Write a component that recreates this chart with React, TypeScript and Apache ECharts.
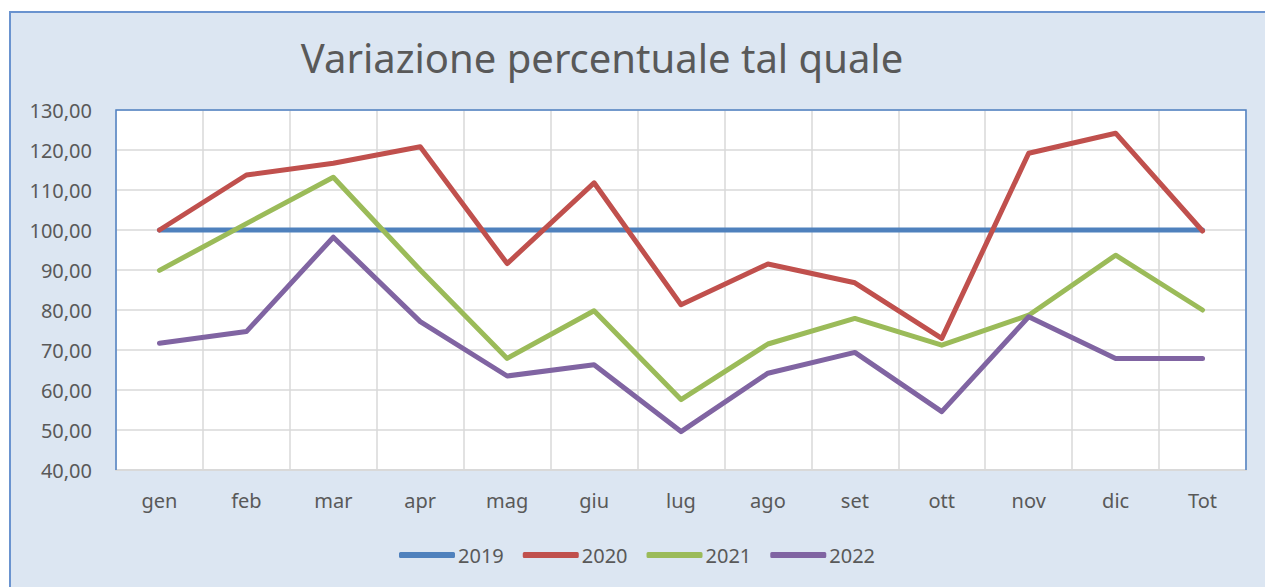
import React, { useEffect, useRef } from "react";
import * as echarts from "echarts";

const titleText = "Variazione percentuale tal quale";
const categories = ["gen", "feb", "mar", "apr", "mag", "giu", "lug", "ago", "set", "ott", "nov", "dic", "Tot"];
const seriesNames = ["2019", "2020", "2021", "2022"];
const values2019 = [100, 100, 100, 100, 100, 100, 100, 100, 100, 100, 100, 100, 100];
const values2020 = [100, 113.75, 116.7, 120.8, 91.6, 111.8, 81.3, 91.5, 86.8, 72.9, 119.2, 124.2, 99.75];
const values2021 = [89.9, 101.6, 113.2, 90, 67.9, 79.8, 57.6, 71.5, 77.9, 71.2, 78.7, 93.7, 80];
const values2022 = [71.7, 74.6, 98.2, 77.1, 63.5, 66.3, 49.6, 64.2, 69.4, 54.6, 78.3, 67.9, 67.9];
const colors = ["#4f81bd", "#c0504d", "#9bbb59", "#8064a2"];
const yMin = 40;
const yMax = 130;
const yStep = 10;

const FONT = "'Noto Sans', sans-serif";
const TXT = "#595959";
const W = 1265;
const H = 587;
const G = { left: 116, right: 19, top: 110, bottom: 117 };

export default function App() {
  const ref = useRef<HTMLDivElement>(null);
  useEffect(() => {
    document.body.style.margin = "0";
    if (!ref.current) return;
    const chart = echarts.init(ref.current, undefined, { renderer: "svg" });
    const allValues = [values2019, values2020, values2021, values2022];
    const gx0 = G.left;
    const gx1 = W - G.right;
    const gy0 = G.top;
    const gy1 = H - G.bottom;
    chart.setOption({
      animation: false,
      textStyle: { fontFamily: FONT, color: TXT },
      graphic: [
        {
          type: "text",
          x: 602,
          y: 57,
          style: {
            text: titleText,
            fontFamily: FONT,
            fontSize: 40,
            fill: TXT,
            textAlign: "center",
            textVerticalAlign: "middle",
          },
        },
        {
          type: "polyline",
          z: 1,
          shape: { points: [[gx0, gy1], [gx0, gy0], [gx1, gy0], [gx1, gy1]] },
          style: { stroke: "#4f81c5", lineWidth: 1.5, fill: "none" },
        },
      ],
      legend: {
        left: 394,
        top: 540,
        itemWidth: 56,
        itemHeight: 6,
        itemGap: 19,
        icon: "roundRect",
        textStyle: { fontFamily: FONT, fontSize: 20, color: TXT, padding: [0, 0, 0, -2] },
        data: seriesNames,
      },
      grid: {
        left: G.left,
        right: G.right,
        top: G.top,
        bottom: G.bottom,
        show: true,
        backgroundColor: "#ffffff",
        borderWidth: 0,
      },
      xAxis: {
        type: "category",
        data: categories,
        boundaryGap: true,
        axisLine: { show: true, lineStyle: { color: "#d9d9d9", width: 2 } },
        axisTick: { show: false },
        axisLabel: { fontFamily: FONT, fontSize: 20, color: TXT, margin: 20 },
        splitLine: { show: true, lineStyle: { color: "#d9d9d9", width: 1.5 } },
      },
      yAxis: {
        type: "value",
        min: yMin,
        max: yMax,
        interval: yStep,
        axisLine: { show: false },
        axisTick: { show: false },
        axisLabel: {
          fontFamily: FONT,
          fontSize: 20,
          color: TXT,
          margin: 24,
          formatter: (v: number) => v.toFixed(2).replace(".", ","),
        },
        splitLine: { show: true, lineStyle: { color: "#d9d9d9", width: 1.5 } },
      },
      series: seriesNames.map((name, i) => ({
        name,
        type: "line",
        data: allValues[i],
        showSymbol: false,
        symbol: "none",
        color: colors[i],
        lineStyle: { color: colors[i], width: 5, cap: "round", join: "round" },
        itemStyle: { color: colors[i] },
        z: 2 + i,
      })),
    });
    return () => chart.dispose();
  }, []);

  return (
    <div style={{ position: "relative", width: W, height: H, overflow: "hidden", background: "#ffffff" }}>
      <div
        style={{
          position: "absolute",
          left: 9,
          top: 11,
          width: 1300,
          height: 620,
          background: "#dce6f2",
          border: "2px solid #6a93cf",
          boxSizing: "border-box",
        }}
      />
      <div ref={ref} style={{ position: "absolute", left: 0, top: 0, width: W, height: H }} />
    </div>
  );
}
